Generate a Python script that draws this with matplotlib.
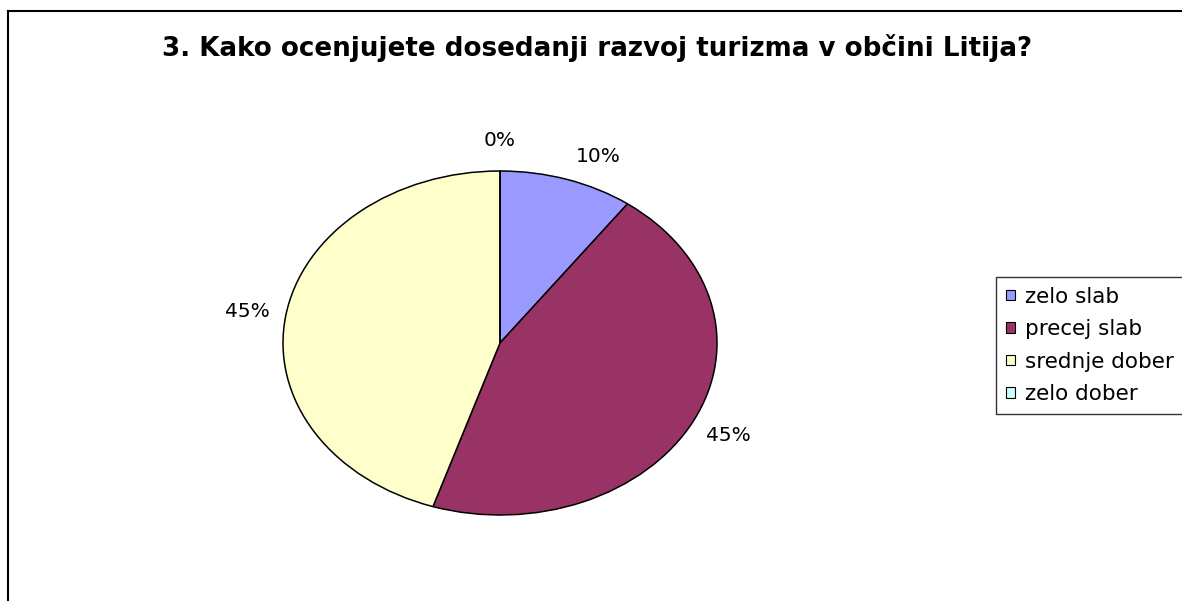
import matplotlib.pyplot as plt
from matplotlib.lines import Line2D

plt.rcParams['font.family'] = ['DejaVu Sans']

# data
categories = ['zelo slab', 'precej slab', 'srednje dober', 'zelo dober']
shares = [10, 45, 45, 0]
colors = ['#9999FF', '#993366', '#FFFFCC', '#CCFFFF']
title = '3. Kako ocenjujete dosedanji razvoj turizma v občini Litija?'

W, H = 1182, 601
fig = plt.figure(figsize=(W / 100, H / 100), dpi=100)

# chart frame (cut off at right and bottom)
fig.add_artist(Line2D([8 / W, 8 / W], [0, 1 - 11 / H], color='black', lw=1.5))
fig.add_artist(Line2D([8 / W, 1], [1 - 11 / H, 1 - 11 / H], color='black', lw=1.5))

fig.text(597 / W, 1 - 48 / H, title, ha='center', va='center',
         fontsize=18.8, fontweight='bold')

# elliptical pie: axes spans the ellipse bounding box
ax = fig.add_axes([283 / W, 1 - 515 / H, 434 / W, 344 / H])
wedges, texts, autotexts = ax.pie(
    shares, colors=colors, startangle=90, counterclock=False,
    autopct='%.0f%%', pctdistance=1.18,
    wedgeprops=dict(edgecolor='black', linewidth=1.1),
    textprops=dict(fontsize=14.5))
ax.set_aspect('auto')
ax.set_xlim(-1, 1)
ax.set_ylim(-1, 1)
for t in autotexts:
    t.set_clip_on(False)
# Excel pushes the small slice label a bit to the right
x, y = autotexts[0].get_position()
autotexts[0].set_position((x + 0.09, y - 0.04))

leg = fig.legend(wedges, categories, loc='upper left',
                 bbox_to_anchor=(996 / W, 1 - 277 / H), fontsize=15.5,
                 frameon=True, fancybox=False, edgecolor='black',
                 handlelength=0.42, handleheight=0.35, handletextpad=0.5,
                 labelspacing=0.58, borderpad=0.45, borderaxespad=0)
leg.get_frame().set_linewidth(1.0)
for h in leg.legend_handles:
    h.set_edgecolor('black')
    h.set_linewidth(0.8)

fig.savefig('out.png', dpi=100)
